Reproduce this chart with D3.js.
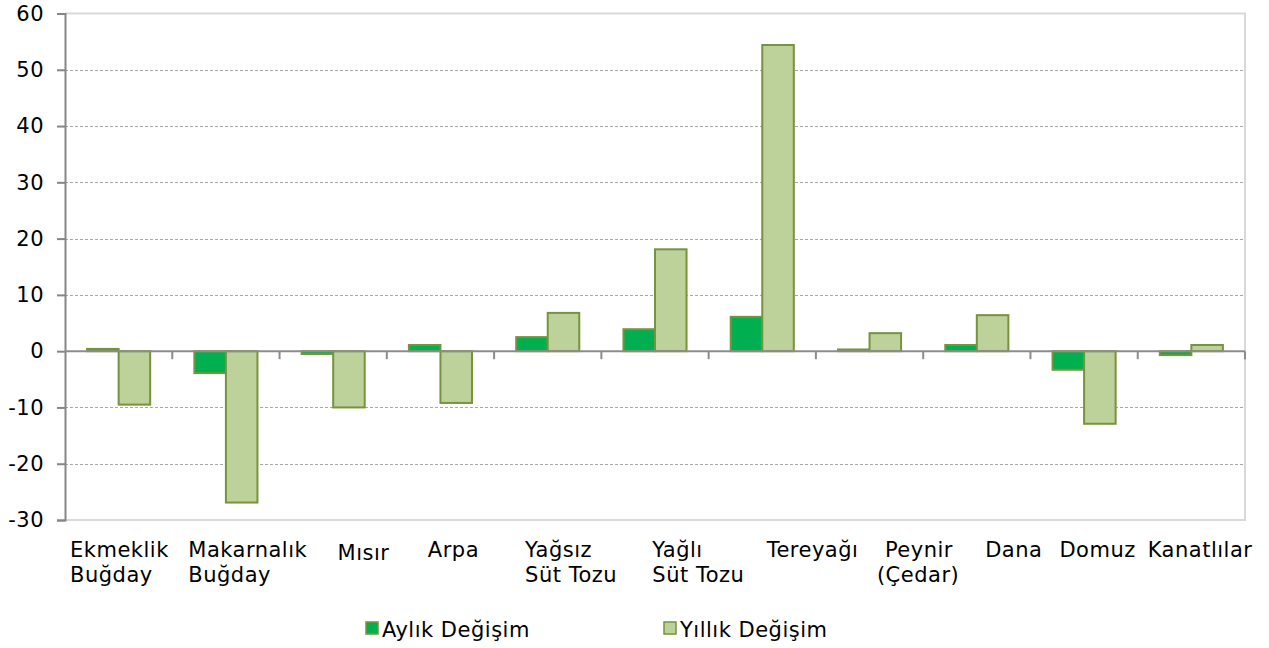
<!DOCTYPE html>
<html>
<head>
<meta charset="utf-8">
<script src="https://cdn.jsdelivr.net/npm/d3@7"></script>
<style>
  body { margin: 0; background: #fff; }
  svg { font-family: 'DejaVu Sans', Verdana, sans-serif; }
</style>
</head>
<body>
<div id="chart"></div>
<script>
// Data
const categories = ['Ekmeklik Buğday', 'Makarnalık Buğday', 'Mısır', 'Arpa', 'Yağsız Süt Tozu',
    'Yağlı Süt Tozu', 'Tereyağı', 'Peynir (Çedar)', 'Dana', 'Domuz', 'Kanatlılar'];
const labelLines = [['Ekmeklik', 'Buğday'], ['Makarnalık', 'Buğday'], ['Mısır'], ['Arpa'],
    ['Yağsız', 'Süt Tozu'], ['Yağlı', 'Süt Tozu'], ['Tereyağı'], ['Peynir', '(Çedar)'],
    ['Dana'], ['Domuz'], ['Kanatlılar']];
const monthly = [0.4, -3.9, -0.5, 1.1, 2.5, 3.9, 6.1, 0.3, 1.1, -3.3, -0.7];
const yearly = [-9.5, -26.9, -10.0, -9.2, 6.8, 18.1, 54.4, 3.2, 6.4, -12.9, 1.1];
const yTicks = [-30, -20, -10, 0, 10, 20, 30, 40, 50, 60];
const seriesNames = ['Aylık Değişim', 'Yıllık Değişim'];

// Layout: where each label line starts, measured from the left of its band
const labelDx = [[5, 5], [16, 16], [58], [41], [31, 31], [51, 51], [58], [69, 61], [62], [29], [10]];

const svgWidth = 1269, svgHeight = 648;
const plot = { left: 65, right: 1245, top: 13.5, bottom: 520 };
const colors = { monthly: '#00B050', yearly: '#BDD19A', stroke: '#77933C' };
const fontSize = '21px', letterSpacing = '0.5px';

const svg = d3.select('#chart')
    .append('svg')
    .attr('width', svgWidth)
    .attr('height', svgHeight);

// Scales
const xScale = d3.scaleBand()
    .domain(categories)
    .range([plot.left, plot.right])
    .padding(0);

const yScale = d3.scaleLinear()
    .domain([-30, 60])
    .range([plot.bottom, plot.top]);

const barW = xScale.bandwidth() * 0.294;

// Plot area border (top, right, bottom)
svg.append('path')
    .attr('d', `M${plot.left},${plot.top}H${plot.right}V${plot.bottom}H${plot.left}`)
    .attr('fill', 'none')
    .attr('stroke', '#d9d9d9')
    .attr('stroke-width', 2);

// Gridlines
svg.append('g')
    .selectAll('line')
    .data(yTicks.filter(d => d !== 0 && d !== -30 && d !== 60))
    .enter()
    .append('line')
    .attr('x1', plot.left)
    .attr('x2', plot.right)
    .attr('y1', d => Math.round(yScale(d)) + 0.5)
    .attr('y2', d => Math.round(yScale(d)) + 0.5)
    .attr('stroke', '#a6a6a6')
    .attr('stroke-width', 1)
    .attr('stroke-dasharray', '3,2');

// Bars
const series = [
    { values: monthly, fill: colors.monthly, offset: -barW },
    { values: yearly, fill: colors.yearly, offset: 0 }
];

series.forEach(s => {
    svg.append('g')
        .selectAll('rect')
        .data(categories)
        .enter()
        .append('rect')
        .attr('x', d => xScale(d) + xScale.bandwidth() / 2 + s.offset)
        .attr('y', (d, i) => yScale(Math.max(0, s.values[i])))
        .attr('width', barW)
        .attr('height', (d, i) => Math.abs(yScale(s.values[i]) - yScale(0)))
        .attr('fill', s.fill)
        .attr('stroke', colors.stroke)
        .attr('stroke-width', 2);
});

// Y axis (plain hyphen for negatives, like the original)
const yAxis = svg.append('g')
    .attr('transform', `translate(${plot.left}, 0)`)
    .call(d3.axisLeft(yScale)
        .tickValues(yTicks)
        .tickFormat(d => String(d))
        .tickSize(8)
        .tickPadding(13));

yAxis.select('.domain').attr('stroke', '#868686').attr('stroke-width', 2);
yAxis.selectAll('.tick line').attr('stroke', '#868686').attr('stroke-width', 2);
yAxis.selectAll('.tick text')
    .attr('fill', '#000')
    .style('font-size', fontSize)
    .style('letter-spacing', letterSpacing)
    .style('font-family', "'DejaVu Sans', Verdana, sans-serif");

// Zero line with category tick marks
const zeroY = yScale(0);
svg.append('line')
    .attr('x1', plot.left)
    .attr('x2', plot.right)
    .attr('y1', zeroY)
    .attr('y2', zeroY)
    .attr('stroke', '#8c8c8c')
    .attr('stroke-width', 2);

svg.append('g')
    .selectAll('line')
    .data(categories)
    .enter()
    .append('line')
    .attr('x1', d => xScale(d) + xScale.bandwidth())
    .attr('x2', d => xScale(d) + xScale.bandwidth())
    .attr('y1', zeroY)
    .attr('y2', zeroY + 8)
    .attr('stroke', '#8c8c8c')
    .attr('stroke-width', 2);

// Category labels
const labels = svg.append('g')
    .selectAll('text')
    .data(categories)
    .enter()
    .append('text')
    .attr('font-size', fontSize)
    .style('letter-spacing', letterSpacing)
    .attr('fill', '#000');

labels.each(function (d, i) {
    const t = d3.select(this);
    labelLines[i].forEach((line, j) => {
        t.append('tspan')
            .attr('x', xScale(d) + labelDx[i][j])
            .attr('y', 557 + j * 25 + (i === 2 ? 3 : 0))
            .text(line);
    });
});

// Legend
const legendX = [366, 664];
const legend = svg.append('g');

seriesNames.forEach((name, i) => {
    legend.append('rect')
        .attr('x', legendX[i])
        .attr('y', 622)
        .attr('width', 12)
        .attr('height', 12)
        .attr('fill', series[i].fill)
        .attr('stroke', colors.stroke)
        .attr('stroke-width', 1.5);

    legend.append('text')
        .attr('x', legendX[i] + 16)
        .attr('y', 636.5)
        .attr('font-size', fontSize)
        .style('letter-spacing', letterSpacing)
        .attr('fill', '#000')
        .text(name);
});
</script>
</body>
</html>
